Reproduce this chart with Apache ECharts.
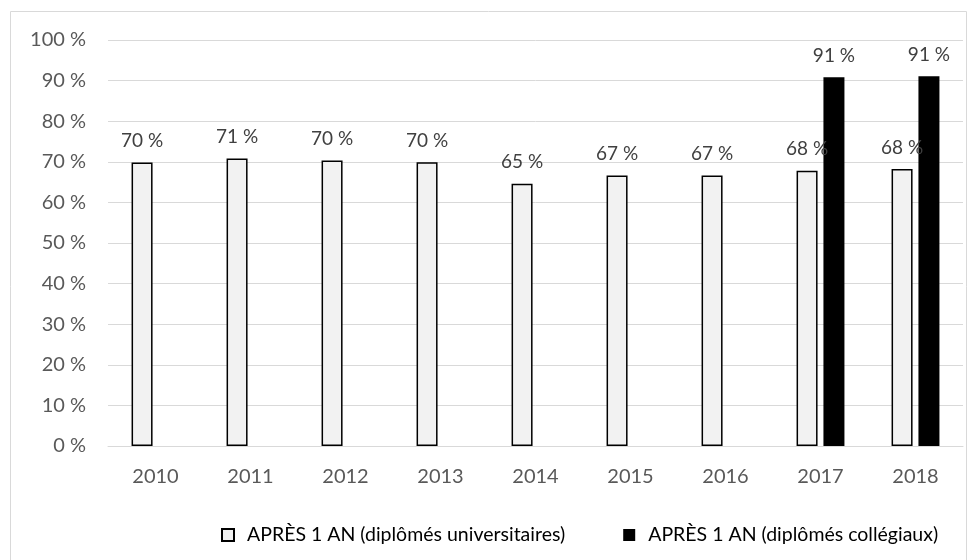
<!DOCTYPE html>
<html>
<head>
<meta charset="utf-8">
<script src="https://cdn.jsdelivr.net/npm/echarts@6/dist/echarts.min.js"></script>
<style>
  html, body { margin: 0; padding: 0; background: #fff; }
  #main { width: 977px; height: 560px; }
</style>
</head>
<body>
<div id="main"></div>
<script>
// années et taux
const years = ['2010', '2011', '2012', '2013', '2014', '2015', '2016', '2017', '2018'];
const universitaires = [69.8, 70.8, 70.3, 69.9, 64.6, 66.6, 66.6, 67.8, 68.2];
const collegiaux = [null, null, null, null, null, null, null, 90.8, 91.1];
const yTicks = [0, 10, 20, 30, 40, 50, 60, 70, 80, 90, 100];

const FONT = 'Lato';
var chart = echarts.init(document.getElementById('main'));

chart.setOption({
  animation: false,
  textStyle: { fontFamily: FONT },
  graphic: [{
    type: 'rect',
    shape: { x: 10.5, y: 11.5, width: 956, height: 560 },
    style: { fill: 'none', stroke: '#d9d9d9', lineWidth: 1 },
    silent: true
  }],
  grid: { left: 108, right: 14, top: 40, bottom: 114, containLabel: false },
  legend: {
    top: 520,
    left: 216,
    itemGap: 58,
    itemWidth: 12,
    itemHeight: 12,
    icon: 'rect',
    textStyle: { fontFamily: FONT, fontSize: 19.5, color: '#000', padding: [0, 0, 0, 8] },
    data: ['APRÈS 1 AN (diplômés universitaires)', 'APRÈS 1 AN (diplômés collégiaux)']
  },
  xAxis: {
    type: 'category',
    data: years,
    axisLine: { lineStyle: { color: '#d9d9d9', width: 1 } },
    axisTick: { show: false },
    axisLabel: { color: '#595959', fontSize: 20, margin: 21, fontFamily: FONT }
  },
  yAxis: {
    type: 'value',
    min: yTicks[0],
    max: yTicks[yTicks.length - 1],
    interval: 10,
    axisLine: { show: false },
    axisTick: { show: false },
    splitLine: { lineStyle: { color: '#d9d9d9', width: 1 } },
    axisLabel: {
      color: '#595959', fontSize: 20, margin: 22, fontFamily: FONT,
      formatter: function (v) { return v + ' %'; }
    }
  },
  series: [{
    name: 'APRÈS 1 AN (diplômés universitaires)',
    type: 'bar',
    data: universitaires,
    barWidth: 21,
    barGap: '28%',
    itemStyle: { color: '#f2f2f2', borderColor: '#000', borderWidth: 1.5 },
    label: {
      show: true, position: 'top', distance: 12,
      color: '#404040', fontSize: 19, fontFamily: FONT,
      formatter: function (p) { return Math.round(p.value) + ' %'; }
    }
  }, {
    name: 'APRÈS 1 AN (diplômés collégiaux)',
    type: 'bar',
    data: collegiaux,
    barWidth: 21,
    itemStyle: { color: '#000' },
    label: {
      show: true, position: 'top', distance: 12,
      color: '#404040', fontSize: 19, fontFamily: FONT,
      formatter: function (p) { return Math.round(p.value) + ' %'; }
    }
  }]
});
</script>
</body>
</html>
